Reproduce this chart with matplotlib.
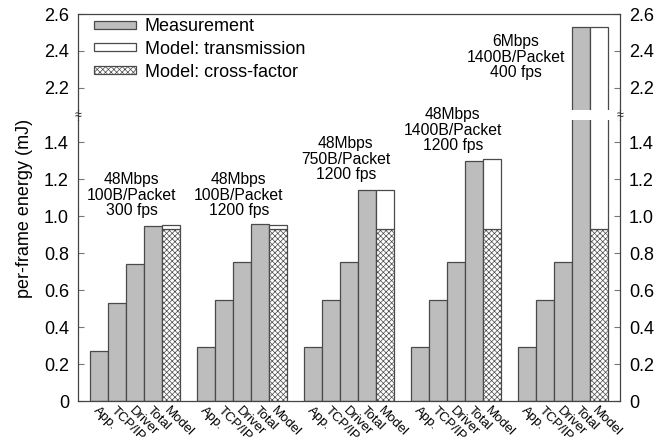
import matplotlib
matplotlib.use('Agg')
import matplotlib.pyplot as plt
from matplotlib.lines import Line2D
import numpy as np

plt.rcParams['font.family'] = ['Liberation Sans', 'DejaVu Sans']
plt.rcParams['hatch.color'] = '#444444'
plt.rcParams['hatch.linewidth'] = 0.5

# data
bar_names = ['App.', 'TCP/IP', 'Driver', 'Total', 'Model']
app = [0.27, 0.29, 0.29, 0.29, 0.29]
tcpip = [0.53, 0.545, 0.545, 0.545, 0.545]
driver = [0.74, 0.75, 0.75, 0.75, 0.75]
total = [0.945, 0.955, 1.14, 1.30, 2.53]
model_total = [0.951, 0.951, 1.14, 1.31, 2.53]
cross_factor = [0.93, 0.93, 0.93, 0.93, 0.93]
group_notes = ['48Mbps\n100B/Packet\n300 fps',
               '48Mbps\n100B/Packet\n1200 fps',
               '48Mbps\n750B/Packet\n1200 fps',
               '48Mbps\n1400B/Packet\n1200 fps',
               '6Mbps\n1400B/Packet\n400 fps']

GRAY = '#bdbdbd'
EDGE = '#4a4a4a'
FS = 13

fig = plt.figure(figsize=(6.54, 4.45), dpi=100)
W, H = 654, 445
x0, x1 = 78, 620
ax_lo = fig.add_axes([x0 / W, (H - 401) / H, (x1 - x0) / W, (401 - 120) / H])
ax_hi = fig.add_axes([x0 / W, (H - 110) / H, (x1 - x0) / W, (110 - 14) / H])
ax_hi.set_facecolor('none')

n = len(app)
base = np.arange(n) * 6
transmission = np.array(model_total) - np.array(cross_factor)

for ax in (ax_lo, ax_hi):
    meas = [app, tcpip, driver, total]
    for i, vals in enumerate(meas):
        ax.bar(base + i, vals, width=1.0, color=GRAY, edgecolor=EDGE, linewidth=0.9,
               label='Measurement' if i == 0 else None)
    ax.bar(base + 4, cross_factor, width=1.0, color='white', edgecolor=EDGE,
           linewidth=0.9, hatch='xxxxxx', label='Model: cross-factor')
    ax.bar(base + 4, transmission, bottom=cross_factor, width=1.0, color='white',
           edgecolor=EDGE, linewidth=0.9, label='Model: transmission')
    ax.set_xlim(-1.2, 29.2)
    for s in ax.spines.values():
        s.set_color('#444444')
        s.set_linewidth(0.9)
    ax.tick_params(axis='y', direction='in', length=4, width=0.8, color='#777777',
                   labelsize=FS, left=True, right=True, labelleft=True, labelright=True,
                   pad=6.5)

ax_lo.set_ylim(0, 1.52)
ax_hi.set_ylim(2.08, 2.6)
ax_lo.spines['top'].set_visible(False)
ax_hi.spines['bottom'].set_visible(False)

ax_lo.set_yticks([0, 0.2, 0.4, 0.6, 0.8, 1.0, 1.2, 1.4])
ax_lo.set_yticklabels(['0', '0.2', '0.4', '0.6', '0.8', '1.0', '1.2', '1.4'])
ax_hi.set_yticks([2.2, 2.4, 2.6])
ax_hi.set_yticklabels(['2.2', '2.4', '2.6'])

ax_hi.set_xticks([])
pos = np.concatenate([base + i for i in range(5)])
labs = [bar_names[i] for i in range(5) for _ in range(n)]
ax_lo.set_xticks(pos)
ax_lo.set_xticklabels(labs, rotation=-45, ha='left', va='top', rotation_mode='anchor',
                      fontsize=9.5)
ax_lo.tick_params(axis='x', length=0, pad=2.5)

ax_lo.set_ylabel('per-frame energy (mJ)', fontsize=FS)
ax_lo.yaxis.set_label_coords(-0.083, 0.687)

# group annotations
note_x = [1.82, 7.82, 13.82, 19.82, 23.36]
note_y = [1.113, 1.113, 1.308, 1.465, 2.367]
for i in range(n):
    target = ax_hi if note_y[i] > 2 else ax_lo
    target.text(note_x[i], note_y[i], group_notes[i], ha='center', va='center',
                fontsize=11.3, linespacing=1.05, zorder=5)

# legend
handles, labels = ax_hi.get_legend_handles_labels()
order = [labels.index('Measurement'), labels.index('Model: transmission'),
         labels.index('Model: cross-factor')]
ax_hi.legend([handles[k] for k in order], [labels[k] for k in order],
             loc='upper left', bbox_to_anchor=(0.01, 1.07), frameon=False,
             fontsize=FS, handlelength=2.3, handleheight=0.3, labelspacing=0.32,
             handletextpad=0.5, borderaxespad=0.2)

# continuous side spines across the break, with break marks
for xp in (x0, x1):
    fig.add_artist(Line2D([xp / W, xp / W], [(H - 120) / H, (H - 110) / H],
                          color='#444444', linewidth=0.9))
    fig.text(xp / W, (H - 116) / H, '\u2248', ha='center', va='center', fontsize=9,
             color='#222222')

fig.savefig('out.png', dpi=100)
